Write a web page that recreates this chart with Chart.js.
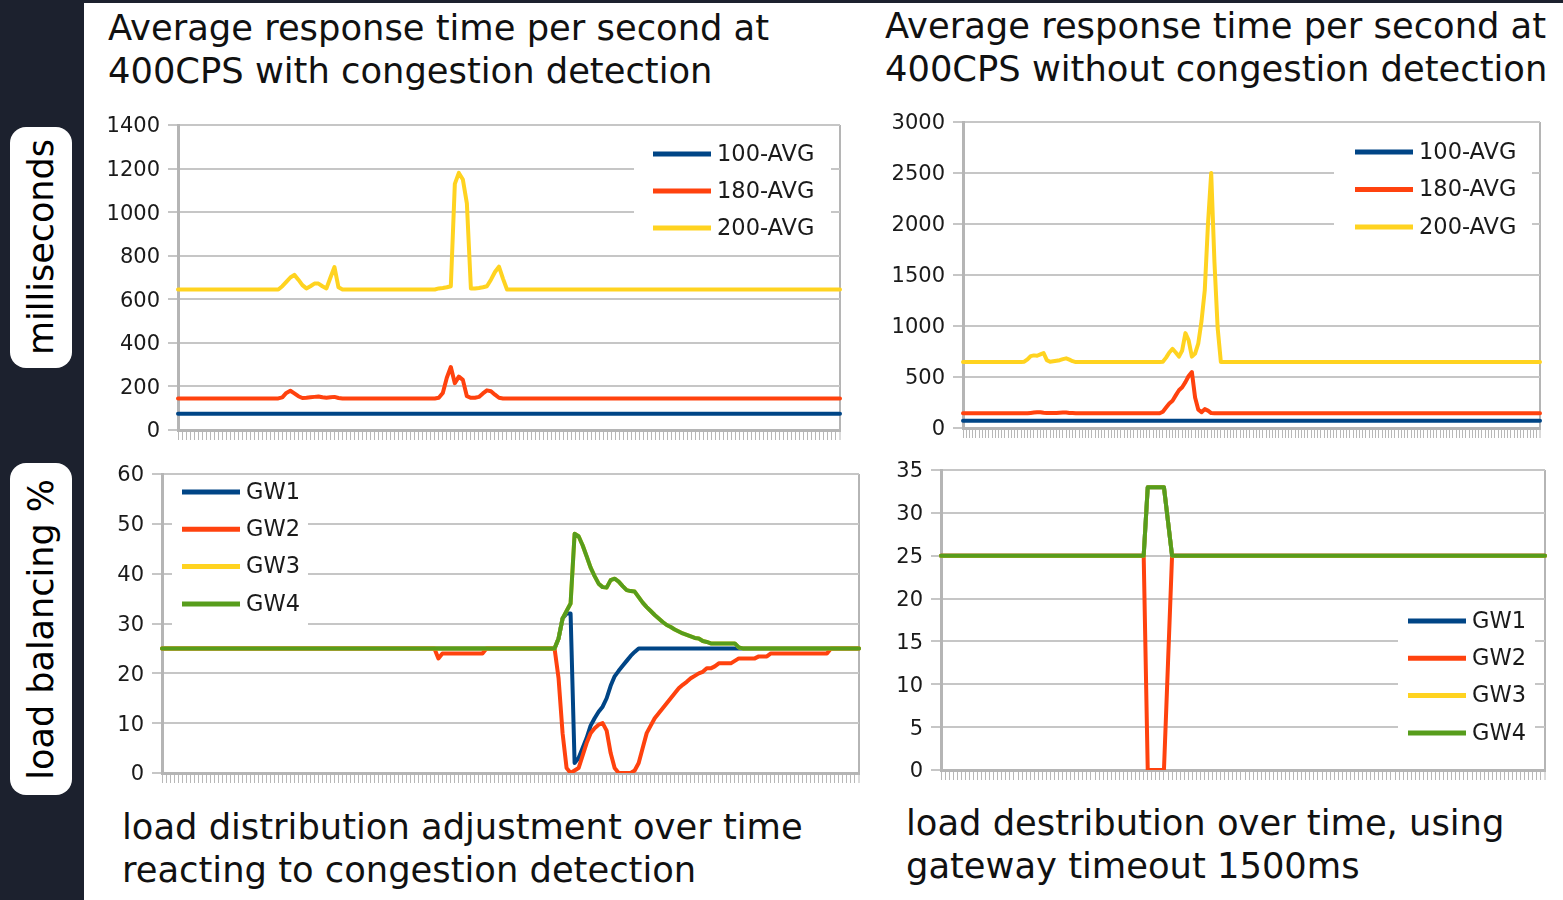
<!DOCTYPE html>
<html>
<head>
<meta charset="utf-8">
<script src="https://cdn.jsdelivr.net/npm/chart.js@4.4.0/dist/chart.umd.min.js"></script>
<style>
  html, body { margin: 0; padding: 0; }
  body { width: 1563px; height: 900px; background: #1c212e; position: relative; overflow: hidden; font-family: "DejaVu Sans", sans-serif; }
  #sheet { position: absolute; left: 84px; top: 3px; right: 0; bottom: 0; background: #fff; }
  .title { position: absolute; font-size: 35.3px; line-height: 43px; color: #111; white-space: nowrap; }
  .side { position: absolute; left: 10px; width: 62px; background: #fff; border-radius: 16px; display: flex; align-items: center; justify-content: center; }
  .side span { writing-mode: vertical-rl; transform: rotate(180deg); font-size: 35px; color: #000; white-space: nowrap; }
  canvas { position: absolute; }
</style>
</head>
<body>
<div id="sheet"></div>

<div class="side" style="top:127px;height:241px"><span>milliseconds</span></div>
<div class="side" style="top:463px;height:332px"><span>load balancing %</span></div>

<div class="title" style="left:108px;top:6px">Average response time per second at<br>400CPS with congestion detection</div>
<div class="title" style="left:885px;top:4px">Average response time per second at<br>400CPS without congestion detection</div>
<div class="title" style="left:122px;top:805px">load distribution adjustment over time<br>reacting to congestion detection</div>
<div class="title" style="left:906px;top:801px">load destribution over time, using<br>gateway timeout 1500ms</div>

<canvas id="respWith" width="750" height="335" style="left:100px;top:110px"></canvas>
<canvas id="respWithout" width="670" height="336" style="left:880px;top:107px"></canvas>
<canvas id="balAdjust" width="769" height="329" style="left:100px;top:459px"></canvas>
<canvas id="balTimeout" width="675" height="330" style="left:880px;top:455px"></canvas>

<script>
// ---- top left: response time with congestion detection (ms per second) ----
const withAvg100 = [
75,75,75,75,75,75,75,75,75,75, 75,75,75,75,75,75,75,75,75,75,
75,75,75,75,75,75,75,75,75,75, 75,75,75,75,75,75,75,75,75,75,
75,75,75,75,75,75,75,75,75,75, 75,75,75,75,75,75,75,75,75,75,
75,75,75,75,75,75,75,75,75,75, 75,75,75,75,75,75,75,75,75,75,
75,75,75,75,75,75,75,75,75,75, 75,75,75,75,75,75,75,75,75,75,
75,75,75,75,75,75,75,75,75,75, 75,75,75,75,75,75,75,75,75,75,
75,75,75,75,75,75,75,75,75,75, 75,75,75,75,75,75,75,75,75,75,
75,75,75,75,75,75,75,75,75,75, 75,75,75,75,75,75,75,75,75,75,
75,75,75,75,75,75
];
const withAvg180 = [
145,145,145,145,145,145,145,145,145,145, 145,145,145,145,145,145,145,145,145,145,
145,145,145,145,145,145,150,170,180,168, 155,147,148,150,152,154,150,148,150,152,
147,145,145,145,145,145,145,145,145,145, 145,145,145,145,145,145,145,145,145,145,
145,145,145,145,145,148,170,240,289,215, 245,230,155,148,148,152,168,182,178,162,
148,145,145,145,145,145,145,145,145,145, 145,145,145,145,145,145,145,145,145,145,
145,145,145,145,145,145,145,145,145,145, 145,145,145,145,145,145,145,145,145,145,
145,145,145,145,145,145,145,145,145,145, 145,145,145,145,145,145,145,145,145,145,
145,145,145,145,145,145,145,145,145,145, 145,145,145,145,145,145,145,145,145,145,
145,145,145,145,145,145
];
const withAvg200 = [
645,645,645,645,645,645,645,645,645,645, 645,645,645,645,645,645,645,645,645,645,
645,645,645,645,645,645,660,680,700,712, 690,665,650,660,672,672,660,650,700,748,
655,645,645,645,645,645,645,645,645,645, 645,645,645,645,645,645,645,645,645,645,
645,645,645,645,645,650,652,655,660,1130, 1180,1150,1040,650,650,652,655,660,690,725,
750,695,645,645,645,645,645,645,645,645, 645,645,645,645,645,645,645,645,645,645,
645,645,645,645,645,645,645,645,645,645, 645,645,645,645,645,645,645,645,645,645,
645,645,645,645,645,645,645,645,645,645, 645,645,645,645,645,645,645,645,645,645,
645,645,645,645,645,645,645,645,645,645, 645,645,645,645,645,645,645,645,645,645,
645,645,645,645,645,645
];

// ---- top right: response time without congestion detection ----
const withoutAvg100 = [
72,72,72,72,72,72,72,72,72,72, 72,72,72,72,72,72,72,72,72,72,
72,72,72,72,72,72,72,72,72,72, 72,72,72,72,72,72,72,72,72,72,
72,72,72,72,72,72,72,72,72,72, 72,72,72,72,72,72,72,72,72,72,
72,72,72,72,72,72,72,72,72,72, 72,72,72,72,72,72,72,72,72,72,
72,72,72,72,72,72,72,72,72,72, 72,72,72,72,72,72,72,72,72,72,
72,72,72,72,72,72,72,72,72,72, 72,72,72,72,72,72,72,72,72,72,
72,72,72,72,72,72,72,72,72,72, 72,72,72,72,72,72,72,72,72,72,
72,72,72,72,72,72,72,72,72,72, 72,72,72,72,72,72,72,72,72,72,
72,72,72,72,72,72,72,72,72,72, 72,72,72,72,72,72,72,72,72,72
];
const withoutAvg180 = [
144,144,144,144,144,144,144,144,144,144, 144,144,144,144,144,144,144,144,144,144,
144,148,152,155,155,150,147,146,147,148, 150,152,152,148,146,144,144,144,144,144,
144,144,144,144,144,144,144,144,144,144, 144,144,144,144,144,144,144,144,144,144,
144,144,160,200,240,268,320,370,400,450, 510,548,300,180,155,185,170,146,144,144,
144,144,144,144,144,144,144,144,144,144, 144,144,144,144,144,144,144,144,144,144,
144,144,144,144,144,144,144,144,144,144, 144,144,144,144,144,144,144,144,144,144,
144,144,144,144,144,144,144,144,144,144, 144,144,144,144,144,144,144,144,144,144,
144,144,144,144,144,144,144,144,144,144, 144,144,144,144,144,144,144,144,144,144,
144,144,144,144,144,144,144,144,144,144, 144,144,144,144,144,144,144,144,144,144
];
const withoutAvg200 = [
646,646,646,646,646,646,646,646,646,646, 646,646,646,646,646,646,646,646,646,650,
672,705,712,708,722,735,665,650,655,660, 665,675,683,670,655,646,646,646,646,646,
646,646,646,646,646,646,646,646,646,646, 646,646,646,646,646,646,646,646,646,646,
646,646,650,690,740,775,740,700,760,930, 860,700,730,830,1050,1350,2000,2500,1630,980,
646,646,646,646,646,646,646,646,646,646, 646,646,646,646,646,646,646,646,646,646,
646,646,646,646,646,646,646,646,646,646, 646,646,646,646,646,646,646,646,646,646,
646,646,646,646,646,646,646,646,646,646, 646,646,646,646,646,646,646,646,646,646,
646,646,646,646,646,646,646,646,646,646, 646,646,646,646,646,646,646,646,646,646,
646,646,646,646,646,646,646,646,646,646, 646,646,646,646,646,646,646,646,646,646
];

// ---- bottom left: load share % per gateway, congestion detection ----
const adjustGw1 = [
25,25,25,25,25,25,25,25,25,25, 25,25,25,25,25,25,25,25,25,25,
25,25,25,25,25,25,25,25,25,25, 25,25,25,25,25,25,25,25,25,25,
25,25,25,25,25,25,25,25,25,25, 25,25,25,25,25,25,25,25,25,25,
25,25,25,25,25,25,25,25,25,25, 25,25,25,25,25,25,25,25,25,25,
25,25,25,25,25,25,25,25,25,25, 25,25,25,25,25,25,25,25,25,27,
31,32,32,2,3,5,7,9.5,11,12.3, 13.3,15,17.5,19.4,20.5,21.5,22.5,23.5,24.3,25,
25,25,25,25,25,25,25,25,25,25, 25,25,25,25,25,25,25,25,25,25,
25,25,25,25,25,25,25,25,25,25, 25,25,25,25,25,25,25,25,25,25,
25,25,25,25,25,25,25,25,25,25, 25,25,25,25,25
];
const adjustGw2 = [
25,25,25,25,25,25,25,25,25,25, 25,25,25,25,25,25,25,25,25,25,
25,25,25,25,25,25,25,25,25,25, 25,25,25,25,25,25,25,25,25,25,
25,25,25,25,25,25,25,25,25,25, 25,25,25,25,25,25,25,25,25,25,
25,25,25,25,25,25,25,25,25,23, 24,24,24,24,24,24,24,24,24,24,
24,25,25,25,25,25,25,25,25,25, 25,25,25,25,25,25,25,25,25,19,
8,1,0,0.5,1,3.5,6,8,9,9.7, 10,8.5,4,1,0,0,0,0,0.5,2,
5,8,9.5,11,12,13,14,15,16,17, 17.7,18.3,19,19.5,20,20.3,21,21,21.4,22,
22,22,22,22.5,23,23,23,23,23,23.4, 23.4,23.4,24,24,24,24,24,24,24,24,
24,24,24,24,24,24,24,25,25,25, 25,25,25,25,25
];
const adjustGw4 = [
25,25,25,25,25,25,25,25,25,25, 25,25,25,25,25,25,25,25,25,25,
25,25,25,25,25,25,25,25,25,25, 25,25,25,25,25,25,25,25,25,25,
25,25,25,25,25,25,25,25,25,25, 25,25,25,25,25,25,25,25,25,25,
25,25,25,25,25,25,25,25,25,25, 25,25,25,25,25,25,25,25,25,25,
25,25,25,25,25,25,25,25,25,25, 25,25,25,25,25,25,25,25,25,27,
31,32.5,34,48,47.5,45.7,43.5,41.2,39.5,38, 37.3,37.2,38.7,39,38.4,37.5,36.7,36.5,36.4,35.3,
34.2,33.3,32.5,31.7,31,30.3,29.7,29.3,28.8,28.4, 28,27.7,27.4,27.1,27,26.5,26.3,26,26,26,
26,26,26,26,25.2,25,25,25,25,25, 25,25,25,25,25,25,25,25,25,25,
25,25,25,25,25,25,25,25,25,25, 25,25,25,25,25
];
// GW3 sits exactly under GW4 (it is never visible)
const adjustGw3 = adjustGw4.slice();

// ---- bottom right: load share % per gateway, 1500ms timeout ----
const timeoutGw2 = [
25,25,25,25,25,25,25,25,25,25, 25,25,25,25,25,25,25,25,25,25,
25,25,25,25,25,25,25,25,25,25, 25,25,25,25,25,25,25,25,25,25,
25,25,25,25,25,25,25,25,25,25, 25,0,0,0,0,0,12.5,25,25,25,
25,25,25,25,25,25,25,25,25,25, 25,25,25,25,25,25,25,25,25,25,
25,25,25,25,25,25,25,25,25,25, 25,25,25,25,25,25,25,25,25,25,
25,25,25,25,25,25,25,25,25,25, 25,25,25,25,25,25,25,25,25,25,
25,25,25,25,25,25,25,25,25,25, 25,25,25,25,25,25,25,25,25,25,
25,25,25,25,25,25,25,25,25,25
];
const timeoutGw4 = [
25,25,25,25,25,25,25,25,25,25, 25,25,25,25,25,25,25,25,25,25,
25,25,25,25,25,25,25,25,25,25, 25,25,25,25,25,25,25,25,25,25,
25,25,25,25,25,25,25,25,25,25, 25,33,33,33,33,33,29,25,25,25,
25,25,25,25,25,25,25,25,25,25, 25,25,25,25,25,25,25,25,25,25,
25,25,25,25,25,25,25,25,25,25, 25,25,25,25,25,25,25,25,25,25,
25,25,25,25,25,25,25,25,25,25, 25,25,25,25,25,25,25,25,25,25,
25,25,25,25,25,25,25,25,25,25, 25,25,25,25,25,25,25,25,25,25,
25,25,25,25,25,25,25,25,25,25
];
// GW1 and GW3 are hidden under GW4 as well
const timeoutGw1 = timeoutGw4.slice();
const timeoutGw3 = timeoutGw4.slice();

const avgNames = ['100-AVG', '180-AVG', '200-AVG'];
const gwNames = ['GW1', 'GW2', 'GW3', 'GW4'];
const avgColors = ['#004586', '#ff420e', '#ffd320'];
const gwColors = ['#004586', '#ff420e', '#ffd320', '#579d1c'];

const frameGrey = '#b5b5b5';

// legend drawn inside the plot, on a white patch over the grid
const insideLegend = {
  id: 'insideLegend',
  beforeDatasetsDraw(chart, args, opts) {
    const area = chart.chartArea;
    const ctx = chart.ctx;
    const x0 = (opts.fromRight ? area.right : area.left) + opts.dx;
    const y0 = (opts.fromBottom ? area.bottom : area.top) + opts.dy;
    ctx.save();
    ctx.fillStyle = '#ffffff';
    ctx.fillRect(x0 + opts.boxX, y0 + opts.boxY, opts.boxW, opts.boxH);
    ctx.font = '22.5px "DejaVu Sans"';
    ctx.textBaseline = 'middle';
    chart.data.datasets.forEach((ds, i) => {
      const y = y0 + i * opts.rowGap;
      ctx.strokeStyle = ds.borderColor;
      ctx.lineWidth = 5;
      ctx.beginPath();
      ctx.moveTo(x0, y);
      ctx.lineTo(x0 + 58, y);
      ctx.stroke();
      ctx.fillStyle = '#1a1a1a';
      ctx.fillText(ds.label, x0 + 64, y + 1);
    });
    ctx.restore();
  }
};

function drawPanel(id, series, names, colors, yMax, yStep, yWidth, legend) {
  const labels = series[0].map((v, i) => String(i + 1));
  const last = labels.length - 1;
  return new Chart(document.getElementById(id), {
    type: 'line',
    data: {
      labels: labels,
      datasets: series.map((vals, i) => ({
        label: names[i],
        data: vals,
        borderColor: colors[i],
        backgroundColor: colors[i],
        borderWidth: 4,
        pointRadius: 0,
        tension: 0,
        fill: false,
        borderJoinStyle: 'round',
        borderCapStyle: 'round',
        order: series.length - i   // later series painted on top, like the original
      }))
    },
    options: {
      responsive: false,
      animation: false,
      events: [],
      layout: { padding: { top: 15, right: 10, left: 0, bottom: 0 } },
      plugins: {
        legend: { display: false },
        tooltip: { enabled: false },
        insideLegend: legend
      },
      scales: {
        x: {
          type: 'category',
          offset: false,
          ticks: { display: false },
          grid: {
            drawOnChartArea: true,
            drawTicks: true,
            tickLength: 10,
            offset: false,
            color: c => c.index === last ? frameGrey : 'rgba(0,0,0,0)',
            lineWidth: c => c.index === last ? 2 : 1,
            tickColor: '#b8b8b8',
            tickWidth: 1
          },
          border: { display: true, color: frameGrey, width: 3 },
          afterFit: s => { s.height = 15; s.paddingLeft = 0; s.paddingRight = 0; }
        },
        y: {
          min: 0,
          max: yMax,
          ticks: {
            stepSize: yStep,
            color: '#1a1a1a',
            font: { family: 'DejaVu Sans', size: 21 },
            padding: 8,
            labelOffset: 2,
            callback: v => String(v)
          },
          grid: { color: '#c6c6c6', lineWidth: 2, tickLength: 10 },
          border: { display: true, color: frameGrey, width: 3 },
          afterFit: s => { s.width = yWidth; s.paddingTop = 0; s.paddingBottom = 0; }
        }
      }
    },
    plugins: [insideLegend]
  });
}

drawPanel('respWith', [withAvg100, withAvg180, withAvg200], avgNames, avgColors, 1400, 200, 78,
  { fromRight: true, dx: -187, dy: 29, rowGap: 37, boxX: -19, boxY: -20, boxW: 197, boxH: 114 });
drawPanel('respWithout', [withoutAvg100, withoutAvg180, withoutAvg200], avgNames, avgColors, 3000, 500, 83,
  { fromRight: true, dx: -185, dy: 30, rowGap: 37.5, boxX: -21, boxY: -20, boxW: 198, boxH: 115 });
drawPanel('balAdjust', [adjustGw1, adjustGw2, adjustGw3, adjustGw4], gwNames, gwColors, 60, 10, 62,
  { fromRight: false, dx: 20, dy: 18, rowGap: 37.3, boxX: -10, boxY: -16, boxW: 136, boxH: 152 });
drawPanel('balTimeout', [timeoutGw1, timeoutGw2, timeoutGw3, timeoutGw4], gwNames, gwColors, 35, 5, 61,
  { fromRight: true, fromBottom: true, dx: -137, dy: -149, rowGap: 37.3, boxX: -10, boxY: -18, boxW: 137, boxH: 148 });
</script>
</body>
</html>
